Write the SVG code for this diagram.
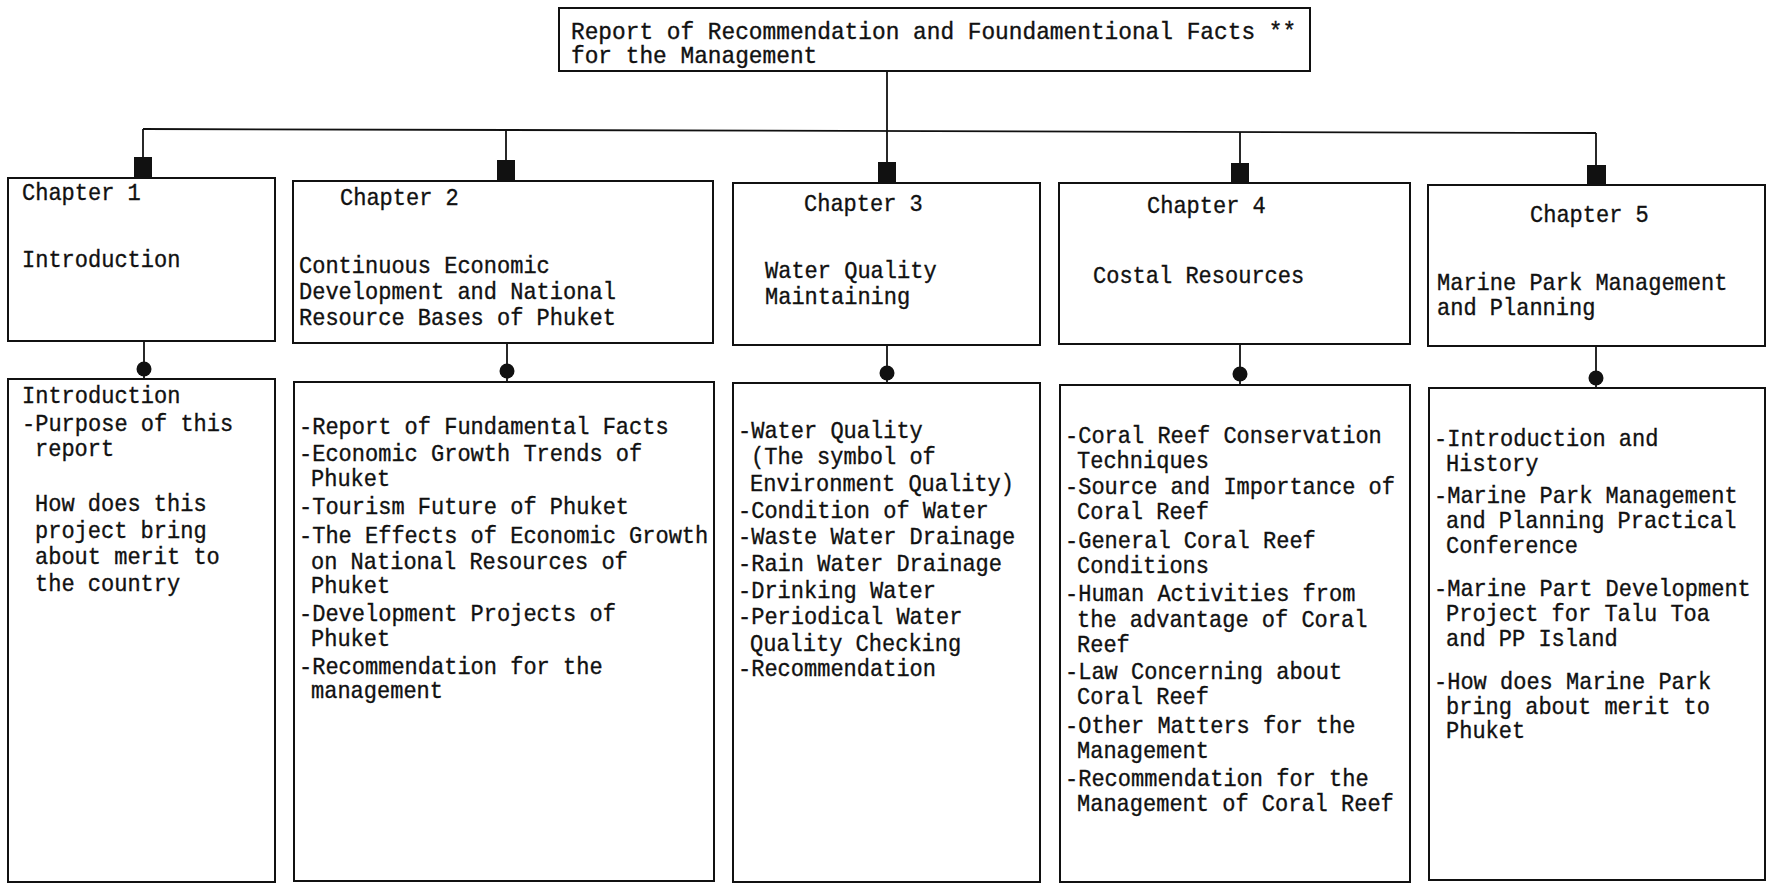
<svg xmlns="http://www.w3.org/2000/svg" width="1767" height="885" viewBox="0 0 1767 885">
<style>
.box{fill:#fff;stroke:#111;stroke-width:2}
.t{font-family:"Liberation Mono","DejaVu Sans Mono",monospace;font-size:24px;fill:#111;stroke:#111;stroke-width:0.35;transform-box:fill-box;transform-origin:0 0;transform:scaleX(0.917)}
.tt{font-family:"Liberation Mono","DejaVu Sans Mono",monospace;font-size:23px;fill:#111;stroke:#111;stroke-width:0.35;transform-box:fill-box;transform-origin:0 0;transform:scaleX(0.992)}
.ln{stroke:#111;stroke-width:1.8;fill:none}
.sq{fill:#111}
.dot{fill:#111}
</style>
<rect width="1767" height="885" fill="#fff"/>
<g id="connectors">
<line class="ln" x1="887" y1="71" x2="887" y2="131"/>
<line class="ln" x1="143" y1="129" x2="1596" y2="133"/>
<line class="ln" x1="143" y1="129" x2="143" y2="158"/>
<line class="ln" x1="506" y1="130" x2="506" y2="160"/>
<line class="ln" x1="887" y1="131" x2="887" y2="162"/>
<line class="ln" x1="1240" y1="132" x2="1240" y2="163"/>
<line class="ln" x1="1596" y1="133" x2="1596" y2="165"/>
<rect class="sq" x="134" y="157" width="18" height="21"/>
<rect class="sq" x="497" y="160" width="18" height="21"/>
<rect class="sq" x="878" y="162" width="18" height="21"/>
<rect class="sq" x="1231" y="163" width="18" height="21"/>
<rect class="sq" x="1587" y="165" width="19" height="21"/>
<line class="ln" x1="144" y1="341" x2="144" y2="379"/>
<line class="ln" x1="507" y1="343" x2="507" y2="382"/>
<line class="ln" x1="887" y1="345" x2="887" y2="383"/>
<line class="ln" x1="1240" y1="344" x2="1240" y2="385"/>
<line class="ln" x1="1596" y1="346" x2="1596" y2="388"/>
<circle class="dot" cx="144" cy="369" r="7.5"/>
<circle class="dot" cx="507" cy="371" r="7.5"/>
<circle class="dot" cx="887" cy="373" r="7.5"/>
<circle class="dot" cx="1240" cy="374" r="7.5"/>
<circle class="dot" cx="1596" cy="378" r="7.5"/>
</g>
<g id="root">
<rect class="box" x="559" y="8" width="751" height="63"/>
<text class="tt" x="571" y="39">Report of Recommendation and Foundamentional Facts **</text>
<text class="tt" x="571" y="63">for the Management</text>
</g>
<g id="chapter1">
<rect class="box" x="8" y="178" width="267" height="163"/>
<text class="t" x="22" y="200">Chapter 1</text>
<text class="t" x="22" y="267">Introduction</text>
</g>
<g id="chapter2">
<rect class="box" x="293" y="181" width="420" height="162"/>
<text class="t" x="340" y="205">Chapter 2</text>
<text class="t" x="299" y="273">Continuous Economic</text>
<text class="t" x="299" y="299">Development and National</text>
<text class="t" x="299" y="325">Resource Bases of Phuket</text>
</g>
<g id="chapter3">
<rect class="box" x="733" y="183" width="307" height="162"/>
<text class="t" x="804" y="211">Chapter 3</text>
<text class="t" x="765" y="278">Water Quality</text>
<text class="t" x="765" y="304">Maintaining</text>
</g>
<g id="chapter4">
<rect class="box" x="1059" y="183" width="351" height="161"/>
<text class="t" x="1147" y="213">Chapter 4</text>
<text class="t" x="1093" y="283">Costal Resources</text>
</g>
<g id="chapter5">
<rect class="box" x="1428" y="185" width="337" height="161"/>
<text class="t" x="1530" y="222">Chapter 5</text>
<text class="t" x="1437" y="290">Marine Park Management</text>
<text class="t" x="1437" y="315">and Planning</text>
</g>
<g id="content1">
<rect class="box" x="8" y="379" width="267" height="503"/>
<text class="t" x="22" y="403">Introduction</text>
<text class="t" x="22" y="431">-Purpose of this</text>
<text class="t" x="35" y="456">report</text>
<text class="t" x="35" y="511">How does this</text>
<text class="t" x="35" y="538">project bring</text>
<text class="t" x="35" y="564">about merit to</text>
<text class="t" x="35" y="591">the country</text>
</g>
<g id="content2">
<rect class="box" x="294" y="382" width="420" height="499"/>
<text class="t" x="299" y="434">-Report of Fundamental Facts</text>
<text class="t" x="299" y="461">-Economic Growth Trends of</text>
<text class="t" x="311" y="486">Phuket</text>
<text class="t" x="299" y="514">-Tourism Future of Phuket</text>
<text class="t" x="299" y="543">-The Effects of Economic Growth</text>
<text class="t" x="311" y="569">on National Resources of</text>
<text class="t" x="311" y="593">Phuket</text>
<text class="t" x="299" y="621">-Development Projects of</text>
<text class="t" x="311" y="646">Phuket</text>
<text class="t" x="299" y="674">-Recommendation for the</text>
<text class="t" x="311" y="698">management</text>
</g>
<g id="content3">
<rect class="box" x="733" y="383" width="307" height="499"/>
<text class="t" x="738" y="438">-Water Quality</text>
<text class="t" x="751" y="464">(The symbol of</text>
<text class="t" x="750" y="491">Environment Quality)</text>
<text class="t" x="738" y="518">-Condition of Water</text>
<text class="t" x="738" y="544">-Waste Water Drainage</text>
<text class="t" x="738" y="571">-Rain Water Drainage</text>
<text class="t" x="738" y="598">-Drinking Water</text>
<text class="t" x="738" y="624">-Periodical Water</text>
<text class="t" x="750" y="651">Quality Checking</text>
<text class="t" x="738" y="676">-Recommendation</text>
</g>
<g id="content4">
<rect class="box" x="1060" y="385" width="350" height="497"/>
<text class="t" x="1065" y="443">-Coral Reef Conservation</text>
<text class="t" x="1077" y="468">Techniques</text>
<text class="t" x="1065" y="494">-Source and Importance of</text>
<text class="t" x="1077" y="519">Coral Reef</text>
<text class="t" x="1065" y="548">-General Coral Reef</text>
<text class="t" x="1077" y="573">Conditions</text>
<text class="t" x="1065" y="601">-Human Activities from</text>
<text class="t" x="1077" y="627">the advantage of Coral</text>
<text class="t" x="1077" y="652">Reef</text>
<text class="t" x="1065" y="679">-Law Concerning about</text>
<text class="t" x="1077" y="704">Coral Reef</text>
<text class="t" x="1065" y="733">-Other Matters for the</text>
<text class="t" x="1077" y="758">Management</text>
<text class="t" x="1065" y="786">-Recommendation for the</text>
<text class="t" x="1077" y="811">Management of Coral Reef</text>
</g>
<g id="content5">
<rect class="box" x="1429" y="388" width="336" height="492"/>
<text class="t" x="1434" y="446">-Introduction and</text>
<text class="t" x="1446" y="471">History</text>
<text class="t" x="1434" y="503">-Marine Park Management</text>
<text class="t" x="1446" y="528">and Planning Practical</text>
<text class="t" x="1446" y="553">Conference</text>
<text class="t" x="1434" y="596">-Marine Part Development</text>
<text class="t" x="1446" y="621">Project for Talu Toa</text>
<text class="t" x="1446" y="646">and PP Island</text>
<text class="t" x="1434" y="689">-How does Marine Park</text>
<text class="t" x="1446" y="714">bring about merit to</text>
<text class="t" x="1446" y="738">Phuket</text>
</g>
</svg>
